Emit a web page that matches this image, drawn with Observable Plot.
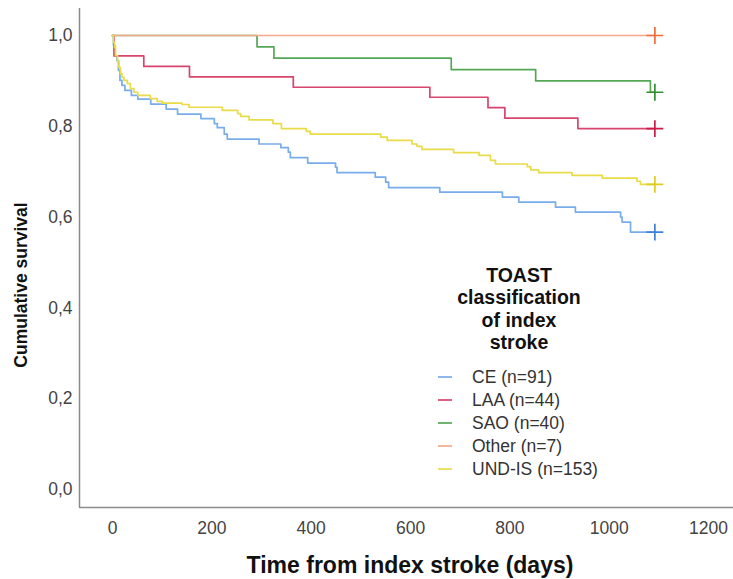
<!DOCTYPE html>
<html><head><meta charset="utf-8">
<script src="https://cdn.jsdelivr.net/npm/d3@7"></script>
<script src="https://cdn.jsdelivr.net/npm/@observablehq/plot@0.6"></script>
<style>
body{margin:0;background:#fff;}
#chart{width:733px;height:579px;}
</style></head><body><div id="chart"></div>
<script>
// ---- data ----
const groups = ["CE (n=91)", "LAA (n=44)", "SAO (n=40)", "Other (n=7)", "UND-IS (n=153)"];
const lineColors = ["#78acea", "#d8456c", "#55a755", "#f5a88c", "#e8dc48"];
const censorColors = ["#3d82da", "#c81d48", "#338f33", "#ef6c3c", "#ddcc22"];
const legendTitle = ["TOAST", "classification", "of index", "stroke"];
const xTicks = [0, 200, 400, 600, 800, 1000, 1200];
const yTicks = [0, 0.2, 0.4, 0.6, 0.8, 1.0];
const xTitle = "Time from index stroke (days)";
const yTitle = "Cumulative survival";

const ceDays = [0,2,5,9,12,15,19,25,38,51,77,108,131,178,205,211,225,231,295,339,354,358,393,449,452,529,550,556,659,785,818,892,932,1023,1026,1043,1092];
const ceSurv = [1,0.978,0.956,0.945,0.923,0.901,0.890,0.879,0.868,0.860,0.849,0.838,0.827,0.817,0.806,0.797,0.783,0.772,0.761,0.753,0.743,0.731,0.719,0.710,0.698,0.688,0.677,0.665,0.655,0.644,0.633,0.622,0.611,0.600,0.589,0.567,0.567];

const laaDays = [0,3,63,155,364,639,756,790,937,1092];
const laaSurv = [1,0.955,0.932,0.909,0.886,0.864,0.841,0.818,0.795,0.795];

const saoDays = [0,291,325,682,852,1083,1092];
const saoSurv = [1,0.975,0.95,0.925,0.9,0.875,0.875];

const otherDays = [0,1092];
const otherSurv = [1,1];

const undDays = [0,2,4,6,10,13,16,19,23,30,36,43,51,76,90,100,140,154,221,252,258,275,323,340,390,398,540,553,603,613,623,687,738,761,771,835,842,858,925,986,1056,1063,1092];
const undSurv = [1,0.985,0.974,0.956,0.943,0.930,0.916,0.908,0.901,0.894,0.883,0.875,0.868,0.861,0.855,0.851,0.848,0.842,0.835,0.828,0.822,0.814,0.806,0.795,0.789,0.783,0.776,0.769,0.761,0.756,0.749,0.742,0.736,0.725,0.717,0.711,0.704,0.698,0.692,0.686,0.679,0.672,0.672];

// ---- build ----
const series = [[ceDays, ceSurv], [laaDays, laaSurv], [saoDays, saoSurv], [otherDays, otherSurv], [undDays, undSurv]];
const rows = series.flatMap(([d, s], i) => d.map((t, j) => ({group: groups[i], t, s: s[j]})));
const censored = series.map(([d, s], i) => ({group: groups[i], t: d[d.length - 1], s: s[s.length - 1], i}));

const xDomain = [-66.44, 1250.3];
const yDomain = [-0.0396, 1.0595];
const fmtY = v => v.toFixed(1).replace(".", ",");
const fmtX = v => String(v);
const font = "'Liberation Sans', Arial, sans-serif";

const plot = Plot.plot({
  width: 733, height: 579,
  marginLeft: 79, marginRight: 0, marginTop: 8, marginBottom: 72,
  style: {fontFamily: font, background: "#fff"},
  x: {domain: xDomain, label: null},
  y: {domain: yDomain, label: null},
  color: {domain: groups, range: lineColors},
  marks: [
    Plot.axisX({ticks: xTicks, tickSize: 0, tickPadding: 14, fontSize: 17.5, fill: "#444", tickFormat: fmtX, label: null}),
    Plot.axisY({ticks: yTicks, tickSize: 0, tickPadding: 7, fontSize: 17.5, fill: "#444", tickFormat: fmtY, label: null}),
    Plot.ruleX([xDomain[0]], {stroke: "#8a8a8a", strokeWidth: 1.5}),
    Plot.ruleY([yDomain[0]], {stroke: "#8a8a8a", strokeWidth: 1.5}),
    Plot.line(rows, {x: "t", y: "s", z: "group", stroke: "group", curve: "step-after", strokeWidth: 1.7}),
    ...censored.map(d => Plot.dot([d], {x: "t", y: "s", symbol: "plus", r: 5.5, stroke: censorColors[d.i], strokeWidth: 1.7}))
  ]
});

const svg = d3.select(plot);
svg.append("text").attr("transform", "translate(21,285) rotate(-90)")
  .attr("text-anchor", "middle").attr("dominant-baseline", "central")
  .style("font", `bold 17.5px ${font}`).attr("fill", "#111").text(yTitle);
svg.append("text").attr("x", 410).attr("y", 565)
  .attr("text-anchor", "middle").attr("dominant-baseline", "central")
  .style("font", `bold 23px ${font}`).attr("fill", "#111").text(xTitle);

const lg = svg.append("g");
legendTitle.forEach((t, k) => {
  lg.append("text").attr("x", 519).attr("y", 275 + k * 22.4)
    .attr("text-anchor", "middle").attr("dominant-baseline", "central")
    .style("font", `bold 19.5px ${font}`).attr("fill", "#111").text(t);
});
groups.forEach((g, k) => {
  const y = 377 + k * 23;
  lg.append("line").attr("x1", 438).attr("x2", 452).attr("y1", y).attr("y2", y)
    .attr("stroke", lineColors[k]).attr("stroke-width", 1.7);
  lg.append("text").attr("x", 472).attr("y", y).attr("text-anchor", "start").attr("dominant-baseline", "central")
    .style("font", `17.5px ${font}`).attr("fill", "#333").text(g);
});

document.getElementById("chart").append(plot);
</script>
</body></html>
